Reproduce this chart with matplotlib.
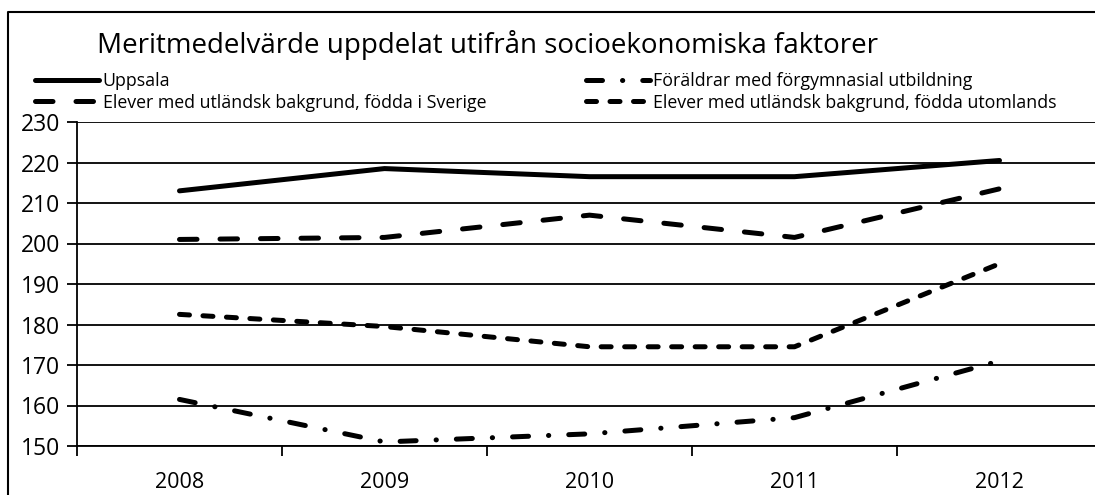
#
# Meritmedelvärde uppdelat utifrån socioekonomiska faktorer, 2008-2012
#
import matplotlib
matplotlib.use('Agg')
import matplotlib.pyplot as plt
from matplotlib.lines import Line2D

years = ['2008', '2009', '2010', '2011', '2012']

uppsala = [213.0, 218.5, 216.5, 216.5, 220.5]
foraldrar = [161.5, 151.0, 153.0, 157.0, 171.0]
sverige = [201.0, 201.5, 207.0, 201.5, 213.5]
utomlands = [182.5, 179.5, 174.5, 174.5, 195.0]

labels = ['Uppsala',
          'Föräldrar med förgymnasial utbildning',
          'Elever med utländsk bakgrund, födda i Sverige',
          'Elever med utländsk bakgrund, födda utomlands']

plt.rcParams['font.family'] = ['Open Sans', 'DejaVu Sans']

fig = plt.figure(figsize=(10.95, 4.95), dpi=100)
W, H = 1095.0, 495.0
ax = fig.add_axes([77 / W, 1 - 446 / H, (1102 - 77) / W, (446 - 122) / H])

x = list(range(len(years)))
lw = 3.6
l_upp, = ax.plot(x, uppsala, color='black', lw=lw, solid_capstyle='round')
l_for, = ax.plot(x, foraldrar, color='black', lw=lw, dash_capstyle='round',
                 dashes=(3.2, 4.0, 0.05, 4.0))
l_sve, = ax.plot(x, sverige, color='black', lw=lw, dash_capstyle='round',
                 dashes=(3.5, 4.6))
l_uto, = ax.plot(x, utomlands, color='black', lw=lw, dash_capstyle='round',
                 dashes=(2.0, 2.7))

ax.set_xlim(-0.5, 4.5)
ax.set_ylim(150, 230)
ax.set_yticks(range(150, 231, 10))
ax.set_xticks(x)
ax.set_xticklabels(years)
ax.set_xticks([i - 0.5 for i in range(len(years) + 1)], minor=True)
ax.tick_params(axis='x', which='major', length=0, pad=19, labelsize=15.5)
ax.tick_params(axis='x', which='minor', length=7, width=1.3, direction='out')
ax.tick_params(axis='y', length=7, width=1.3, pad=5, labelsize=16.5)

ax.grid(axis='y', color='black', lw=1.3)
ax.set_axisbelow(True)
for side in ['top', 'right']:
    ax.spines[side].set_visible(False)
for side in ['left', 'bottom']:
    ax.spines[side].set_linewidth(1.3)

fig.text(97 / W, 1 - 45 / H, 'Meritmedelvärde uppdelat utifrån socioekonomiska faktorer',
         fontsize=20, va='center', ha='left')

leg = fig.legend([l_upp, l_sve, l_for, l_uto],
                 [labels[0], labels[2], labels[1], labels[3]],
                 ncol=2, loc='upper left', bbox_to_anchor=(35 / W, 1 - 72 / H),
                 frameon=False, fontsize=12.8, handlelength=3.6, handletextpad=0.2,
                 columnspacing=5.6, borderpad=0, borderaxespad=0, labelspacing=0.2)

# outer chart border
fig.add_artist(Line2D([8 / W, 8 / W, 1.0], [0, 1 - 12 / H, 1 - 12 / H],
                      transform=fig.transFigure, color='black', lw=1.5))

plt.savefig('out.png', dpi=100)
plt.close()
